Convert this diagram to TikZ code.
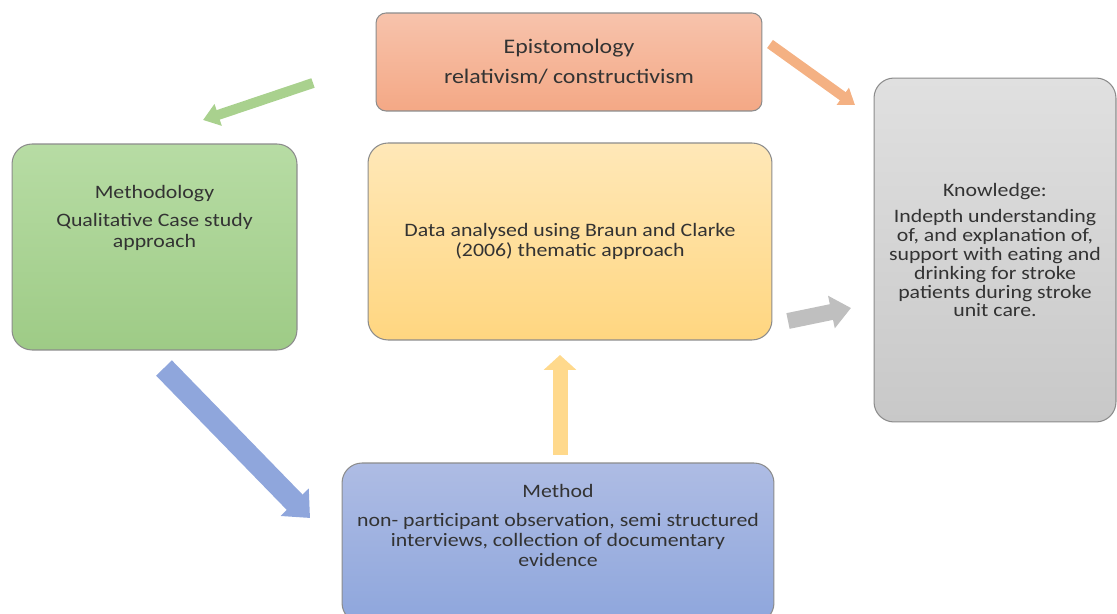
\documentclass[tikz,border=0pt]{standalone}
\usepackage{fontspec}
\setmainfont{Carlito}[FakeStretch=1.15]
\usetikzlibrary{arrows.meta}

\definecolor{txtgray}{HTML}{333333}
\definecolor{linegray}{HTML}{8C8C8C}

\begin{document}
\begin{tikzpicture}[x=0.02cm, y=-0.02cm,
    box/.style={draw=linegray, line width=0.6pt, rounded corners=0.4cm, text=txtgray, align=center},
    boxtext/.style={text=txtgray, align=center, anchor=north},
    blockarrow/.style={line width=#1}]
    \clip (0,0) rectangle (1117,614);

    \node[box, rounded corners=0.2cm, minimum width=7.72cm, minimum height=1.96cm,
          top color={rgb,255:red,247;green,195;blue,172}, bottom color={rgb,255:red,244;green,168;blue,133},
          font=\fontsize{11.8}{13}\selectfont]                  (epi)   at (569,62)
          {Epistomology\\[4pt] relativism/ constructivism};
    \node[box, minimum width=5.7cm, minimum height=4.12cm,
          top color={rgb,255:red,183;green,220;blue,164}, bottom color={rgb,255:red,158;green,203;blue,134},
          label={[boxtext, yshift=-0.72cm, font=\fontsize{10.8}{11.9}\selectfont]north:{Methodology\\[4pt] Qualitative Case study\\ approach}}]
                                                                 (methy) at (154.5,247) {};
    \node[box, minimum width=8.08cm, minimum height=3.94cm,
          top color={rgb,255:red,255;green,232;blue,184}, bottom color={rgb,255:red,255;green,214;blue,128},
          font=\fontsize{10.8}{11.3}\selectfont]                 (data)  at (570,241.5)
          {Data analysed using Braun and Clarke\\ (2006) thematic approach};
    \node[box, minimum width=4.84cm, minimum height=6.88cm,
          top color={rgb,255:red,224;green,224;blue,224}, bottom color={rgb,255:red,200;green,200;blue,200},
          font=\fontsize{10.8}{10.7}\selectfont]                 (know)  at (995,250)
          {Knowledge:\\[4.6pt] Indepth understanding\\ of, and explanation of,\\ support with eating and\\ drinking for stroke\\ patients during stroke\\ unit care.};
    \node[box, minimum width=8.64cm, minimum height=3.2cm,
          top color={rgb,255:red,174;green,188;blue,228}, bottom color={rgb,255:red,142;green,166;blue,220},
          label={[boxtext, yshift=-0.32cm, font=\fontsize{10.8}{11.6}\selectfont]north:{Method\\[4.5pt] non- participant observation, semi structured\\ interviews, collection of documentary\\ evidence}}]
                                                                 (meth)  at (558,543) {};

    % arrow ends
    \coordinate (g0) at (313,83);   \coordinate (g1) at (203,120);
    \coordinate (o0) at (770,44);   \coordinate (o1) at (855,105);
    \coordinate (b0) at (164,368);  \coordinate (b1) at (310,518);
    \coordinate (y0) at (560,455);  \coordinate (y1) at (560,355);
    \coordinate (k0) at (788,321);  \coordinate (k1) at (851,308);

    \draw[blockarrow=0.2cm, draw={rgb,255:red,169;green,209;blue,142},
          -{Triangle[length=0.32cm, width=0.44cm]}] (g0) -- (g1);
    \draw[blockarrow=0.2cm, draw={rgb,255:red,244;green,177;blue,131},
          -{Triangle[length=0.3cm, width=0.4cm]}] (o0) -- (o1);
    \draw[blockarrow=0.44cm, draw={rgb,255:red,143;green,166;blue,220},
          -{Triangle[length=0.44cm, width=0.76cm]}] (b0) -- (b1);
    \draw[blockarrow=0.3cm, draw={rgb,255:red,255;green,217;blue,140},
          -{Triangle[length=0.3cm, width=0.64cm]}] (y0) -- (y1);
    \draw[blockarrow=0.32cm, draw={rgb,255:red,191;green,191;blue,191},
          -{Triangle[length=0.4cm, width=0.64cm]}] (k0) -- (k1);
\end{tikzpicture}
\end{document}
